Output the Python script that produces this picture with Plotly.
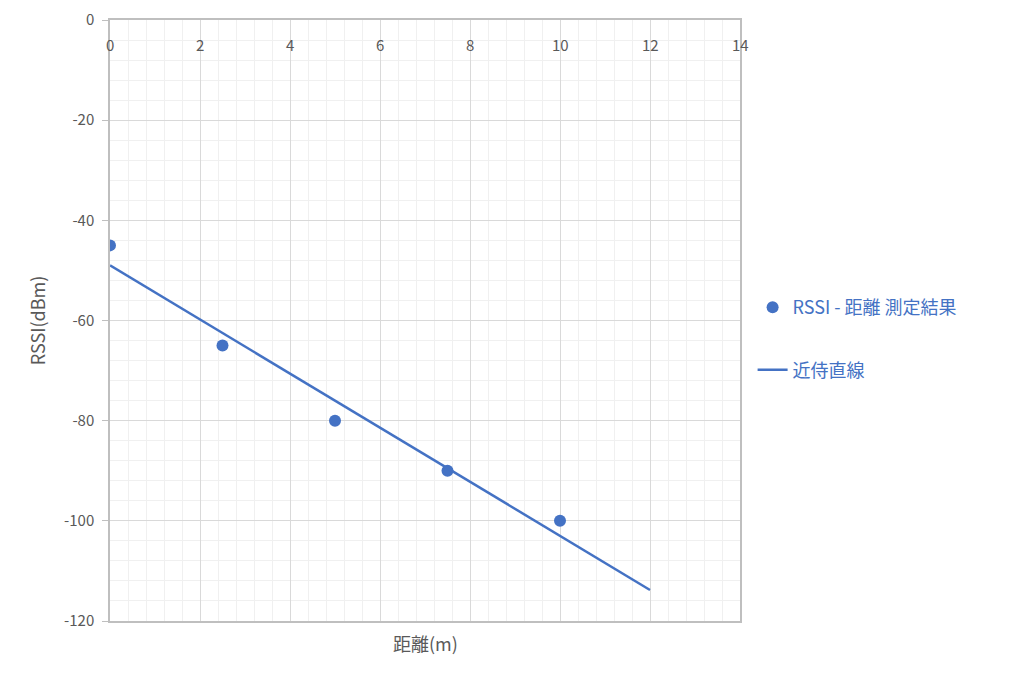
import plotly.graph_objects as go

distance_m = [0, 2.5, 5, 7.5, 10]
rssi_dbm = [-45, -65, -80, -90, -100]
trend_x = [0, 12]
trend_y = [-49, -113.8]
x_ticks = [0, 2, 4, 6, 8, 10, 12, 14]
y_ticks = [0, -20, -40, -60, -80, -100, -120]
y_tick_labels = ["0", "-20", "-40", "-60", "-80", "-100", "-120"]

blue = "#4472C4"
gray_text = "#595959"
font = "Noto Sans CJK JP, Noto Sans, sans-serif"

fig = go.Figure()
fig.add_trace(go.Scatter(
    x=distance_m, y=rssi_dbm, mode="markers", name="RSSI - 距離 測定結果",
    marker=dict(color=blue, size=12), legendgroup="a"))
fig.add_trace(go.Scatter(
    x=trend_x, y=trend_y, mode="lines", name="近侍直線",
    line=dict(color=blue, width=2.5), legendgroup="b"))

fig.update_layout(
    width=1010, height=686,
    margin=dict(l=102, r=278, t=12, b=73, autoexpand=False),
    paper_bgcolor="white", plot_bgcolor="white",
    font=dict(family=font, color=gray_text, size=15),
    legend=dict(x=1.02, y=0.47, yanchor="middle", xanchor="left",
                font=dict(size=18, color=blue), tracegroupgap=36,
                traceorder="grouped", itemwidth=30),
    showlegend=True,
)
fig.update_xaxes(
    range=[0, 14], tickvals=x_ticks, showticklabels=False, side="top",
    showgrid=True, gridcolor="#d9d9d9", gridwidth=1,
    minor=dict(dtick=0.4, showgrid=True, gridcolor="#f0f0f0", gridwidth=1),
    showline=True, linecolor="#bfbfbf", linewidth=1.5, mirror=True,
    zeroline=False, automargin=False,
)
fig.update_yaxes(
    range=[-120, 0], tickvals=y_ticks, ticktext=y_tick_labels,
    showgrid=True, gridcolor="#d9d9d9", gridwidth=1,
    minor=dict(dtick=4, showgrid=True, gridcolor="#f0f0f0", gridwidth=1),
    showline=True, linecolor="#bfbfbf", linewidth=1.5, mirror=True,
    ticks="outside", ticklen=6, tickcolor="#bfbfbf", ticklabelstandoff=5,
    zeroline=False, automargin=False, tickfont=dict(size=15, color=gray_text),
    title=dict(text="RSSI(dBm)", font=dict(size=18, color=gray_text), standoff=14),
)
for t in x_ticks:
    fig.add_annotation(text=str(t), x=t, y=0, xref="x", yref="y", showarrow=False,
                       yanchor="middle", yshift=-24, font=dict(size=15, color=gray_text))
fig.add_annotation(
    text="距離(m)", x=0.5, xref="paper", y=-0.012, yref="paper",
    yanchor="top", showarrow=False, font=dict(size=18, color=gray_text))
fig.add_shape(type="line", xref="paper", yref="paper", x0=-104/630, x1=-104/630,
              y0=-73/601, y1=1+12/601, line=dict(color="#d9d9d9", width=1))

fig.write_html("out.html")
